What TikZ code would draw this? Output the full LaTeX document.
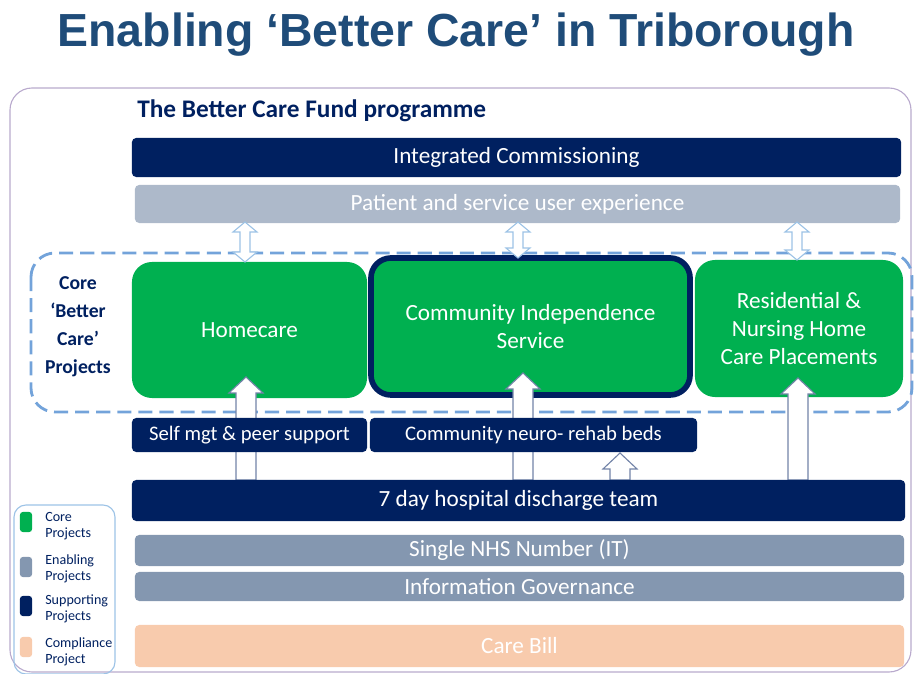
\documentclass[tikz,border=0pt]{standalone}
\usepackage{fontspec}
\setmainfont{Carlito}
\newfontfamily\titlefont{Liberation Sans}
\usepackage{tikz}
\usetikzlibrary{positioning, calc}
\definecolor{bcfNavy}{RGB}{0, 32, 96}
\definecolor{bcfTitle}{RGB}{31, 76, 121}
\definecolor{bcfGreen}{RGB}{0, 176, 80}
\definecolor{bcfPale}{RGB}{173, 185, 202}
\definecolor{bcfGrey}{RGB}{132, 151, 176}
\definecolor{bcfPeach}{RGB}{248, 203, 173}
\definecolor{bcfDash}{RGB}{115, 163, 218}
\definecolor{bcfFrame}{RGB}{185, 170, 205}
\definecolor{bcfSky}{RGB}{157, 195, 230}

\tikzset{
    bar/.style={rectangle, rounded corners=3pt, inner sep=0pt, text=white,
        font=\fontsize{16.5}{19}\selectfont},
    smallbar/.style={bar, font=\fontsize{14.7}{17}\selectfont},
    corebox/.style={rectangle, rounded corners=0.5cm, fill=bcfGreen, text=white,
        align=center, inner sep=0pt, font=\fontsize{16.5}{20}\selectfont},
    fatarrow/.style={fill=white, draw=bcfNavy!55, line width=0.8pt},
    twoway/.style={fill=white, draw=bcfSky, line width=0.8pt},
    keybox/.style={rectangle, rounded corners=2pt, minimum width=0.3cm,
        minimum height=0.5cm, inner sep=0pt},
    keytext/.style={anchor=west, align=left, inner sep=0pt, text=bcfNavy,
        font=\fontsize{10}{11.5}\selectfont}
}

% block arrow pointing up: foot, tip
\newcommand{\upblock}[2]{%
    \draw[fatarrow] ($(#1)+(-10,0)$) -- ($(#2)+(-10,16)$) -- ($(#2)+(-17,16)$)
        -- (#2) -- ($(#2)+(17,16)$) -- ($(#2)+(10,16)$) -- ($(#1)+(10,0)$) -- cycle;}
% two-headed block arrow: top, bottom
\newcommand{\twoblock}[2]{%
    \draw[twoway] (#1) -- ($(#1)+(12,10)$) -- ($(#1)+(5,10)$) -- ($(#2)+(5,-10)$)
        -- ($(#2)+(12,-10)$) -- (#2) -- ($(#2)+(-12,-10)$) -- ($(#2)+(-5,-10)$)
        -- ($(#1)+(-5,10)$) -- ($(#1)+(-12,10)$) -- cycle;}

\begin{document}
\begin{tikzpicture}[x=0.025cm, y=-0.025cm]
    \useasboundingbox (0,0) rectangle (914,674);

    \node[text=bcfTitle, font=\titlefont\bfseries\fontsize{33}{38}\selectfont] (title) at (456,35)
        {Enabling ‘Better Care’ in Triborough};

    \draw[bcfFrame, line width=0.8pt, rounded corners=0.55cm] (10,88) rectangle (911,672);
    \node[anchor=west, inner sep=0pt, text=bcfNavy, font=\bfseries\fontsize{18}{21}\selectfont]
        (heading) at (137,111) {The Better Care Fund programme};

    \node[bar, fill=bcfNavy, minimum width=19.225cm, minimum height=0.975cm] (ic) at (516.5,157.5)
        {Integrated Commissioning};
    \node[bar, fill=bcfPale, minimum width=19.125cm, minimum height=0.95cm] (pse) at (517.5,204)
        {Patient and service user experience};

    % core projects
    \draw[bcfDash, line width=2pt, dash pattern=on 10pt off 5pt, rounded corners=0.6cm]
        (31,253) rectangle (912,412);
    \node[align=center, text=bcfNavy, font=\bfseries\fontsize{14}{20}\selectfont] (corelbl) at (78,327)
        {Core\\‘Better\\Care’\\Projects};
    \node[corebox, minimum width=5.875cm, minimum height=3.4cm] (homecare) at (249.5,330) {Homecare};
    \node[corebox, draw=bcfNavy, line width=4pt, minimum width=7.975cm, minimum height=3.425cm]
        (cis) at (530.5,326.5) {Community Independence\\Service};
    \node[corebox, minimum width=5.2cm, minimum height=3.425cm] (res) at (799,328.5)
        {Residential \&\\Nursing Home\\Care Placements};

    \coordinate (pseA) at (245,222);   \coordinate (hcTop) at (245,262);
    \coordinate (pseB) at (518,222);   \coordinate (cisTop) at (518,258);
    \coordinate (pseC) at (797,222);   \coordinate (resTop) at (797,260);
    \twoblock{pseA}{hcTop}
    \twoblock{pseB}{cisTop}
    \twoblock{pseC}{resTop}

    % arrows run behind the supporting bars
    \coordinate (hcIn) at (246,377);   \coordinate (hcOut) at (246,480);
    \coordinate (cisIn) at (523,373);  \coordinate (cisOut) at (523,480);
    \coordinate (resIn) at (798,378);  \coordinate (resOut) at (798,480);
    \coordinate (nrIn) at (620,453);   \coordinate (nrOut) at (620,480);
    \upblock{hcOut}{hcIn}
    \upblock{cisOut}{cisIn}
    \upblock{resOut}{resIn}
    \upblock{nrOut}{nrIn}

    % supporting projects
    \node[smallbar, fill=bcfNavy, minimum width=5.875cm, minimum height=0.85cm] (self) at (249.5,435)
        {Self mgt \& peer support};
    \node[smallbar, fill=bcfNavy, minimum width=8.175cm, minimum height=0.85cm] (neuro) at (533.5,435)
        {Community neuro- rehab beds};
    \node[bar, fill=bcfNavy, minimum width=19.325cm, minimum height=1.025cm] (disc) at (518.5,500.5)
        {7 day hospital discharge team};

    % enabling and compliance
    \node[bar, fill=bcfGrey, minimum width=19.225cm, minimum height=0.775cm] (nhs) at (519.5,550.5)
        {Single NHS Number (IT)};
    \node[bar, fill=bcfGrey, minimum width=19.225cm, minimum height=0.725cm] (ig) at (519.5,586.5)
        {Information Governance};
    \node[bar, fill=bcfPeach, minimum width=19.225cm, minimum height=1.05cm] (bill) at (519.5,646)
        {Care Bill};

    % key
    \draw[bcfSky, line width=0.8pt, rounded corners=0.3cm] (14,505) rectangle (115,674);
    \node[keybox, fill=bcfGreen] (k1) at (26,522) {};
    \node[keybox, fill=bcfGrey] (k2) at (26,567) {};
    \node[keybox, fill=bcfNavy] (k3) at (26,606) {};
    \node[keybox, fill=bcfPeach] (k4) at (26,647) {};
    \node[keytext] (t1) at (45,526) {Core\\Projects};
    \node[keytext] (t2) at (45,569) {Enabling\\Projects};
    \node[keytext] (t3) at (45,609) {Supporting\\Projects};
    \node[keytext] (t4) at (45,652) {Compliance\\Project};
\end{tikzpicture}
\end{document}
